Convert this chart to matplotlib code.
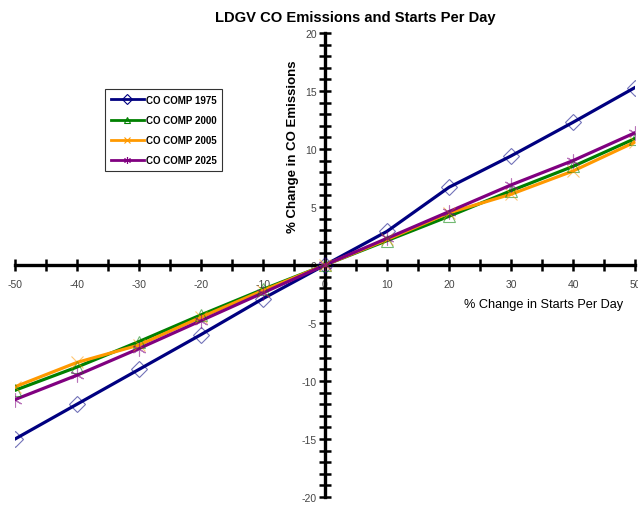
import matplotlib
matplotlib.use("Agg")
import matplotlib.pyplot as plt
import matplotlib.ticker as mticker
from matplotlib.lines import Line2D

plt.rcParams["font.family"] = ["Liberation Sans", "DejaVu Sans"]
plt.rcParams["axes.unicode_minus"] = False

# ── Data ──────────────────────────────────────────────────────────────────────
STARTS = [-50, -40, -30, -20, -10, 0, 10, 20, 30, 40, 50]
CO_1975 = [-15.0, -12.0, -9.0, -6.0, -2.9, 0, 2.9, 6.7, 9.4, 12.3, 15.3]
CO_2000 = [-10.8, -8.8, -6.6, -4.3, -2.1, 0, 2.1, 4.2, 6.4, 8.5, 10.9]
CO_2005 = [-10.5, -8.4, -6.9, -4.5, -2.2, 0, 2.2, 4.5, 6.1, 8.1, 10.6]
CO_2025 = [-11.6, -9.5, -7.2, -4.8, -2.4, 0, 2.3, 4.6, 6.9, 9.0, 11.4]
LABELS = ["CO COMP 1975", "CO COMP 2000", "CO COMP 2005", "CO COMP 2025"]

# ── Style ──────────────────────────────────────────────────────────────────────
COLORS = ["#000080", "#008000", "#FF9900", "#800080"]
MARKERS = ["D", "^", "x", (6, 2, 0)]
MSIZES = [8, 9, 9, 10]

fig = plt.figure(figsize=(6.38, 5.06), dpi=100, facecolor="white")
ax = fig.add_axes([15 / 638, 8 / 506, 620 / 638, 464 / 506])

for ys, clr, mk, ms, lab in zip([CO_1975, CO_2000, CO_2005, CO_2025],
                                COLORS, MARKERS, MSIZES, LABELS):
    hollow = mk in ("D", "^")
    ax.plot(STARTS, ys, color=clr, linewidth=2.3, label=lab, zorder=3)
    ax.plot(STARTS, ys, linestyle="none", marker=mk, markersize=ms,
            markerfacecolor="none" if hollow else clr,
            markeredgecolor=clr, markeredgewidth=0.8, alpha=0.55, zorder=4)

ax.set_xlim(-50, 50)
ax.set_ylim(-20, 20)

# ── Axes crossing at the origin ───────────────────────────────────────────────
for side in ("top", "right"):
    ax.spines[side].set_visible(False)
ax.spines["left"].set_position(("data", 0))
ax.spines["bottom"].set_position(("data", 0))
ax.spines["left"].set_linewidth(2.4)
ax.spines["bottom"].set_linewidth(2.4)

ax.xaxis.set_major_locator(mticker.MultipleLocator(10))
ax.xaxis.set_minor_locator(mticker.MultipleLocator(5))
ax.yaxis.set_major_locator(mticker.MultipleLocator(5))
ax.yaxis.set_minor_locator(mticker.MultipleLocator(1))
ax.tick_params(which="both", direction="inout", width=1.8, length=8,
               labelsize=7.5, labelcolor="#444444", pad=2)
ax.tick_params(axis="x", which="major", pad=6)

ax.text(-5.2, 10.3, "% Change in CO Emissions", rotation=90,
        ha="center", va="center", fontsize=9.5, fontweight="bold")
ax.text(35.2, -3.4, "% Change in Starts Per Day",
        ha="center", va="center", fontsize=9.2)

fig.text(355 / 638, 1 - 18 / 506, "LDGV CO Emissions and Starts Per Day",
         ha="center", va="center", fontsize=10.6, fontweight="bold")

# ── Legend ───────────────────────────────────────────────────────────────────
handles = [Line2D([], [], color=c, linewidth=2, marker=m, markersize=5,
                  markerfacecolor="none" if m in ("D", "^") else c,
                  markeredgewidth=0.8)
           for c, m in zip(COLORS, MARKERS)]
leg = fig.legend(handles, LABELS, loc="upper left",
                 bbox_to_anchor=(105 / 638, 1 - 90 / 506),
                 frameon=True, fancybox=False,
                 handlelength=3.4, handletextpad=0.2, labelspacing=1.05,
                 borderpad=0.6, borderaxespad=0,
                 prop={"weight": "bold", "size": 7})
leg.get_frame().set_edgecolor("black")
leg.get_frame().set_linewidth(0.8)

fig.savefig("out.png", dpi=100, facecolor="white")
